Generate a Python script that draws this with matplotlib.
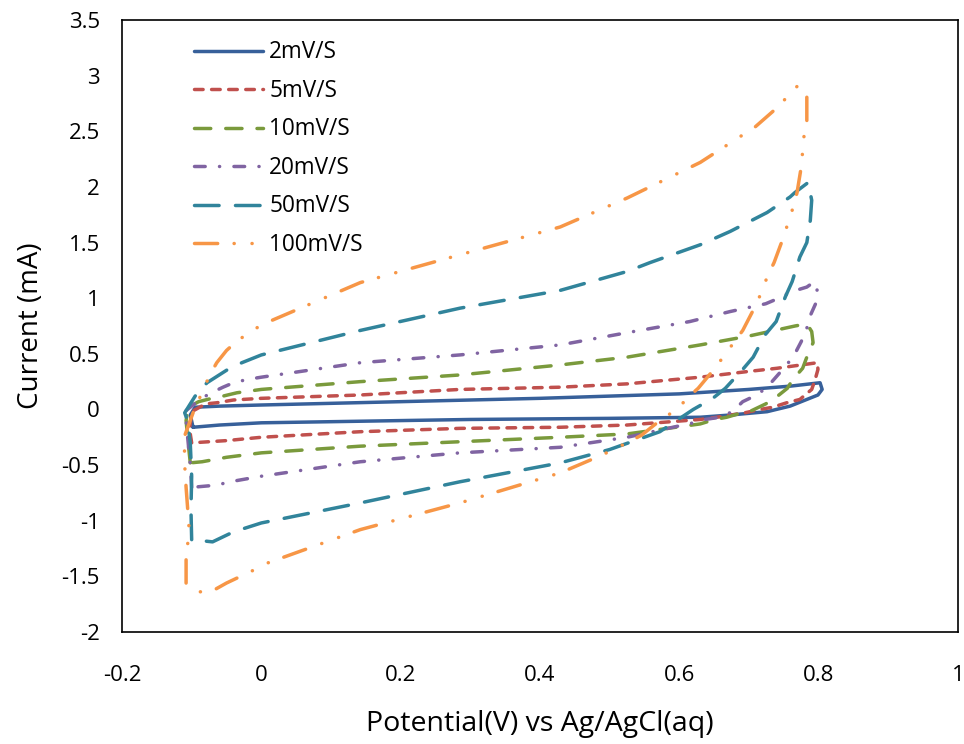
import numpy as np
import matplotlib
matplotlib.use("Agg")
import matplotlib.pyplot as plt

plt.rcParams['font.family'] = ['Open Sans', 'DejaVu Sans']
plt.rcParams['lines.scale_dashes'] = False

# scan rate labels
labels = ["2mV/S", "5mV/S", "10mV/S", "20mV/S", "50mV/S", "100mV/S"]

# each loop: potential (V) and current (mA)
E_2 = [-0.098, -0.102, -0.095, -0.06, 0.0, 0.1, 0.2, 0.3, 0.4, 0.5, 0.6, 0.7, 0.76, 0.802,
       0.805, 0.799, 0.783, 0.759, 0.726, 0.673, 0.63, 0.5, 0.4, 0.3, 0.2, 0.1, 0.0, -0.06, -0.098]
I_2 = [-0.16, -0.05, 0.02, 0.03, 0.04, 0.055, 0.07, 0.085, 0.10, 0.12, 0.14, 0.18, 0.21, 0.24,
       0.18, 0.13, 0.09, 0.03, -0.02, -0.05, -0.07, -0.08, -0.085, -0.09, -0.10, -0.11, -0.12, -0.14, -0.16]

E_5 = [-0.1, -0.103, -0.1, -0.08, -0.064, -0.04, 0.0, 0.142, 0.285, 0.429, 0.525, 0.63, 0.697, 0.74, 0.798,
       0.799, 0.795, 0.79, 0.773, 0.754, 0.734, 0.716, 0.694, 0.654, 0.63, 0.525, 0.429, 0.285, 0.142, 0.0, -0.05, -0.1]
I_5 = [-0.30, -0.18, -0.02, 0.05, 0.06, 0.085, 0.10, 0.13, 0.18, 0.20, 0.23, 0.29, 0.34, 0.37, 0.42,
       0.36, 0.27, 0.18, 0.09, 0.06, 0.02, 0.0, -0.03, -0.07, -0.09, -0.14, -0.16, -0.17, -0.20, -0.25, -0.28, -0.30]

E_10 = [-0.102, -0.105, -0.108, -0.105, -0.09, -0.071, -0.055, -0.035, 0.0, 0.142, 0.285, 0.429, 0.525, 0.63, 0.7, 0.766, 0.783,
        0.79, 0.792, 0.783, 0.777, 0.763, 0.755, 0.737, 0.724, 0.704, 0.69, 0.668, 0.651, 0.63, 0.525, 0.429, 0.285, 0.142, 0.0,
        -0.05, -0.085, -0.102]
I_10 = [-0.48, -0.30, -0.10, 0.02, 0.07, 0.10, 0.12, 0.15, 0.18, 0.25, 0.31, 0.40, 0.47, 0.58, 0.66, 0.75, 0.77,
        0.70, 0.60, 0.47, 0.37, 0.27, 0.19, 0.10, 0.05, -0.01, -0.03, -0.07, -0.09, -0.13, -0.22, -0.25, -0.29, -0.33, -0.39,
        -0.43, -0.47, -0.48]

E_20 = [-0.1, -0.102, -0.105, -0.108, -0.112, -0.09, -0.075, -0.055, -0.04, -0.02, 0.0, 0.142, 0.285, 0.429, 0.525, 0.615, 0.673,
        0.724, 0.739, 0.762, 0.783, 0.792, 0.798, 0.797, 0.787, 0.783, 0.775, 0.765, 0.754, 0.74, 0.726, 0.711, 0.691, 0.676,
        0.658, 0.637, 0.62, 0.525, 0.429, 0.285, 0.142, 0.0, -0.045, -0.064, -0.1]
I_20 = [-0.70, -0.50, -0.30, -0.10, -0.03, 0.08, 0.14, 0.20, 0.24, 0.27, 0.29, 0.42, 0.49, 0.58, 0.69, 0.79, 0.88,
        0.95, 0.99, 1.06, 1.10, 1.14, 1.12, 0.97, 0.83, 0.73, 0.61, 0.49, 0.40, 0.30, 0.20, 0.13, 0.07, -0.02,
        -0.07, -0.09, -0.12, -0.25, -0.34, -0.39, -0.47, -0.60, -0.65, -0.68, -0.70]

E_50 = [-0.1, -0.101, -0.1, -0.102, -0.106, -0.11, -0.095, -0.078, -0.048, -0.028, 0.0, 0.142, 0.285, 0.429, 0.525, 0.558, 0.63,
        0.673, 0.726, 0.759, 0.766, 0.785, 0.79, 0.788, 0.783, 0.773, 0.762, 0.752, 0.739, 0.723, 0.706, 0.691, 0.666, 0.648,
        0.62, 0.572, 0.5, 0.429, 0.285, 0.142, 0.0, -0.04, -0.07, -0.1]
I_50 = [-1.17, -0.90, -0.60, -0.30, -0.10, -0.03, 0.12, 0.24, 0.36, 0.42, 0.49, 0.71, 0.91, 1.07, 1.24, 1.32, 1.48,
        1.60, 1.77, 1.91, 1.95, 2.04, 1.88, 1.70, 1.50, 1.37, 1.15, 1.01, 0.79, 0.67, 0.47, 0.36, 0.19, 0.10,
        0.0, -0.20, -0.36, -0.48, -0.65, -0.84, -1.02, -1.10, -1.19, -1.17]

E_100 = [-0.108, -0.108, -0.105, -0.104, -0.108, -0.11, -0.11, -0.112, -0.098, -0.074, -0.064, -0.05, -0.034, 0.0, 0.142, 0.285,
         0.429, 0.525, 0.63, 0.709, 0.74, 0.755, 0.77, 0.783, 0.783, 0.779, 0.777, 0.775, 0.769, 0.763, 0.749, 0.736, 0.726,
         0.719, 0.71, 0.691, 0.651, 0.627, 0.611, 0.597, 0.576, 0.546, 0.525, 0.505, 0.489, 0.429, 0.285, 0.142, 0.0, -0.013,
         -0.05, -0.07, -0.09, -0.108]
I_100 = [-1.56, -1.33, -1.17, -1.04, -0.70, -0.50, -0.39, -0.27, -0.03, 0.31, 0.42, 0.53, 0.62, 0.76, 1.14, 1.39,
         1.64, 1.90, 2.22, 2.54, 2.71, 2.81, 2.91, 2.84, 2.58, 2.46, 2.32, 2.18, 1.95, 1.81, 1.54, 1.32, 1.19,
         1.07, 0.94, 0.71, 0.37, 0.19, 0.10, 0.0, -0.08, -0.23, -0.30, -0.36, -0.41, -0.57, -0.84, -1.08, -1.40, -1.45,
         -1.56, -1.63, -1.64, -1.56]

E_all = [E_2, E_5, E_10, E_20, E_50, E_100]
I_all = [I_2, I_5, I_10, I_20, I_50, I_100]

colors = ["#37609A", "#C0504D", "#7A9A3C", "#8064A2", "#31849B", "#F79646"]
# dash patterns in points (round caps)
styles = [
    "-",
    (0, (6.2, 6.1)),
    (0, (11.7, 10.8)),
    (0, (7.7, 10.3, 0.1, 10.3)),
    (0, (17.7, 11.8)),
    (0, (16.7, 11.8, 0.1, 12.8, 0.1, 12.3)),
]

fig = plt.figure(figsize=(9.64, 7.44), dpi=100)
ax = fig.add_axes([122 / 964, 1 - 632 / 744, 836 / 964, 612 / 744])

for E, I, c, ls, lab in zip(E_all, I_all, colors, styles, labels):
    ax.plot(E, I, color=c, ls=ls, lw=2.5, label=lab,
            dash_capstyle="round", solid_capstyle="round", solid_joinstyle="round", dash_joinstyle="round")

ax.set_xlim(-0.2, 1.0)
ax.set_ylim(-2.0, 3.5)
xt = np.arange(-0.2, 1.01, 0.2)
yt = np.arange(-2.0, 3.51, 0.5)
ax.set_xticks(xt)
ax.set_yticks(yt)
ax.set_xticklabels(["%g" % round(v, 1) for v in xt])
ax.set_yticklabels(["%g" % round(v, 1) for v in yt])
ax.tick_params(axis="both", length=0, labelsize=16, colors="#000000")
ax.tick_params(axis="x", pad=24)
ax.tick_params(axis="y", pad=16)

for s in ax.spines.values():
    s.set_linewidth(1.2)
    s.set_color("black")

ax.set_xlabel("Potential(V) vs Ag/AgCl(aq)", fontsize=20.5, labelpad=17)
ax.set_ylabel("Current (mA)", fontsize=20, labelpad=12)

ax.legend(loc="upper left", bbox_to_anchor=(0.072, 0.985), frameon=False, fontsize=16.3,
          handlelength=3.05, handletextpad=0.3, labelspacing=0.64, borderpad=0)

fig.savefig("out.png", dpi=100)
